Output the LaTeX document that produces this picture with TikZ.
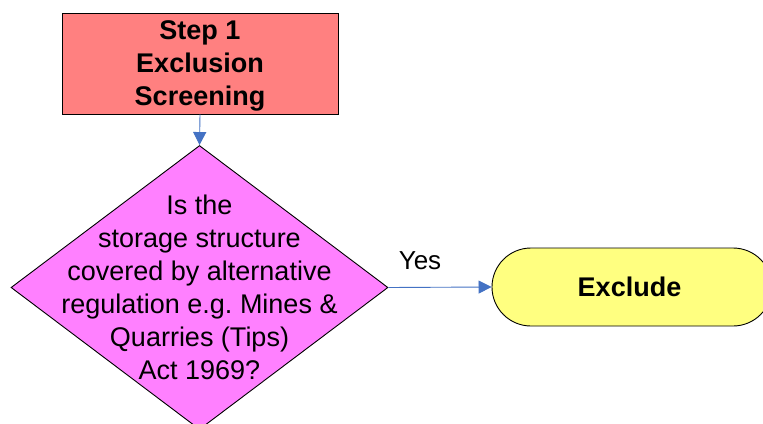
\documentclass[tikz,border=0pt]{standalone}
\usepackage{fontspec}
\setmainfont{Liberation Sans}
\usetikzlibrary{arrows.meta,shapes.geometric}
\frenchspacing
\definecolor{stepred}{HTML}{FF8080}
\definecolor{decpink}{HTML}{FF80FF}
\definecolor{endyellow}{HTML}{FFFF80}
\definecolor{arrowblue}{HTML}{4472C4}
\tikzset{
  txt/.style={font=\fontsize{27}{33}\selectfont, align=center, inner sep=0},
  btxt/.style={font=\bfseries\fontsize{27}{33}\selectfont, align=center, inner sep=0},
  stepbox/.style={draw=black, line width=0.9pt, fill=stepred, minimum width=276, minimum height=101, inner sep=0},
  decbox/.style={draw=black, line width=0.9pt, fill=decpink, diamond, minimum width=377, minimum height=284, inner sep=0},
  endbox/.style={draw=black, line width=0.9pt, fill=endyellow, rectangle, rounded corners=39, minimum width=280, minimum height=78, inner sep=0},
  conn/.style={draw=arrowblue, line width=0.9pt, -{Triangle[width=13pt,length=13pt]}},
}
\begin{document}
\begin{tikzpicture}[x=1pt,y=-1pt]
\clip (0,0) rectangle (763,423);
\fill[white] (0,0) rectangle (763,423);
\node[stepbox] (s1) at (200,63.5) {};
\node[btxt] (s1t) at (200,66) {Step 1\\Exclusion\\Screening};
\node[decbox] (q) at (199.5,287.5) {};
\node[txt] (qt) at (199.5,287) {Is the\\storage structure\\covered by alternative\\regulation e.g.\ Mines \&\\Quarries (Tips)\\Act 1969?};
\node[endbox] (ex) at (632,287) {};
\node[btxt] (ext) at (629.5,287) {Exclude};
\node[font=\fontsize{26}{30}\selectfont, inner sep=0] (yes) at (420,261) {Yes};
\draw[conn] (s1.south) -- (q.north);
\draw[conn] (q.east) -- (ex.west);
\end{tikzpicture}
\end{document}
